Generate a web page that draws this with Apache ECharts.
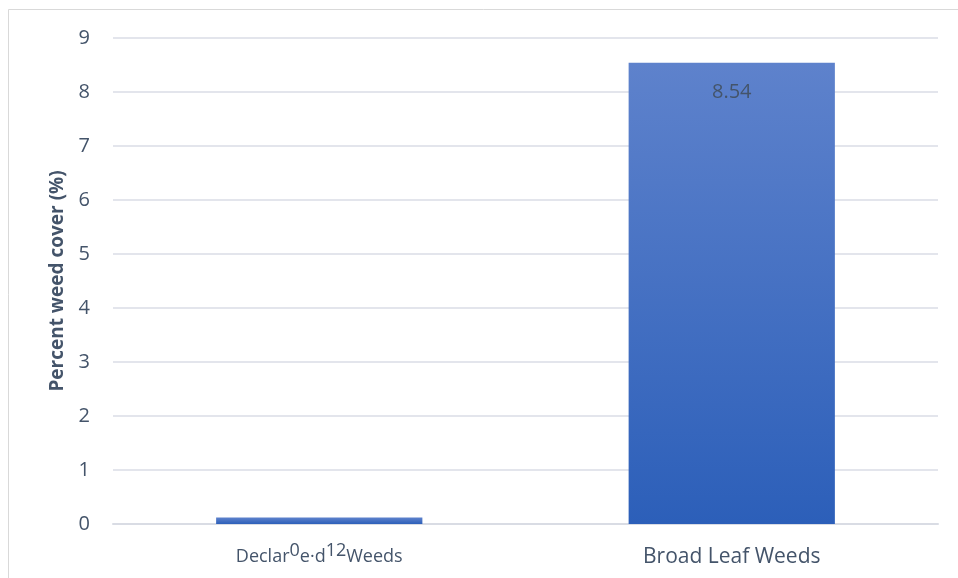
<!DOCTYPE html>
<html>
<head>
<meta charset="utf-8">
<script src="https://cdn.jsdelivr.net/npm/echarts@6/dist/echarts.min.js"></script>
<style>
  html, body { margin: 0; padding: 0; background: #ffffff; }
  #chart { width: 958px; height: 578px; }
</style>
</head>
<body>
<div id="chart"></div>
<script>
// Weed cover by weed group
const categories = ['Declared Weeds', 'Broad Leaf Weeds'];
const coverValues = [0.12, 8.54];
const yTicks = [0, 1, 2, 3, 4, 5, 6, 7, 8, 9];
const yTitle = 'Percent weed cover (%)';

const textColor = '#44546a';
const chart = echarts.init(document.getElementById('chart'));

// The small bar's value label collides with its category name; the
// category label interleaves the "0.12" digits as raised fragments.
function categoryLabel(value, index) {
  if (index === 0) {
    const v = String(coverValues[0]).split('.');
    return '{n|Declar}{s|' + v[0] + '}{n|e}{d|·}{n|d}{s|' + v[1] + '}{n|Weeds}';
  }
  return value;
}

chart.setOption({
  backgroundColor: '#ffffff',
  animation: false,
  graphic: [{
    type: 'rect',
    shape: { x: 8.5, y: 9.5, width: 1200, height: 1200 },
    style: { fill: 'none', stroke: '#d9d9d9', lineWidth: 1 },
    silent: true
  }],
  grid: { left: 113, right: 20, top: 38, bottom: 54 },
  xAxis: {
    type: 'category',
    data: categories,
    axisTick: { show: false },
    axisLine: { show: true, lineStyle: { color: '#d9dce4', width: 2 } },
    axisLabel: {
      interval: 0,
      hideOverlap: false,
      color: textColor,
      fontFamily: 'Open Sans',
      fontSize: 21,
      lineHeight: 30,
      margin: 18,
      formatter: categoryLabel,
      rich: {
        n: { color: textColor, fontFamily: 'Open Sans', fontSize: 18, lineHeight: 30 },
        s: { color: textColor, fontFamily: 'Open Sans', fontSize: 18, lineHeight: 20, verticalAlign: 'top' },
        d: { color: textColor, fontFamily: 'Open Sans', fontSize: 18, lineHeight: 30 }
      }
    }
  },
  yAxis: {
    type: 'value',
    min: yTicks[0],
    max: yTicks[yTicks.length - 1],
    interval: 1,
    name: yTitle,
    nameLocation: 'middle',
    nameGap: 46,
    nameTextStyle: { color: textColor, fontFamily: 'Open Sans', fontSize: 19, fontWeight: 'bold' },
    axisLine: { show: false },
    axisTick: { show: false },
    axisLabel: { color: textColor, fontFamily: 'Open Sans', fontSize: 20, margin: 23 },
    splitLine: { lineStyle: { color: '#e3e5ec', width: 2 } }
  },
  series: [{
    type: 'bar',
    data: coverValues,
    barWidth: '50%',
    itemStyle: {
      color: new echarts.graphic.LinearGradient(0, 0, 0, 1, [
        { offset: 0, color: '#5e82cc' },
        { offset: 1, color: '#2c5fb9' }
      ])
    },
    label: {
      show: true,
      position: 'insideTop',
      distance: 19,
      color: textColor,
      fontFamily: 'Open Sans',
      fontSize: 20,
      formatter: p => p.dataIndex === 0 ? '' : p.value.toFixed(2)
    }
  }]
});
</script>
</body>
</html>
